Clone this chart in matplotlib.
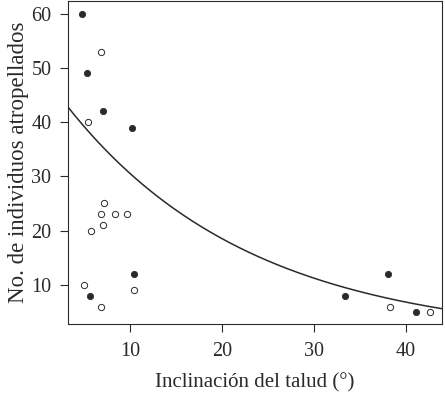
import matplotlib
matplotlib.use("Agg")
import matplotlib.pyplot as plt
import numpy as np

plt.rcParams['font.family'] = ['Liberation Serif', 'DejaVu Serif']

# filled circles
filled_x = [4.8, 5.3, 7.1, 10.2, 10.4, 5.6, 33.4, 38.0, 41.1]
filled_y = [60, 49, 42, 39, 12, 8, 8, 12, 5]
# open circles
open_x = [6.8, 5.4, 7.2, 6.8, 8.4, 9.7, 7.1, 5.7, 5.0, 10.4, 6.8, 38.3, 42.6]
open_y = [53, 40, 25, 23, 23, 23, 21, 20, 10, 9, 6, 6, 5]

# fitted curve y = a * exp(-b x)
fit_a = 50.3
fit_b = 0.05

ink = '#2a2a2a'

fig = plt.figure(figsize=(4.45, 3.94), dpi=100)
ax = fig.add_axes([0.153, 0.178, 0.840, 0.819])

xs = np.linspace(3.2, 44, 200)
ax.plot(xs, fit_a * np.exp(-fit_b * xs), color=ink, lw=1.1)
ax.plot(filled_x, filled_y, 'o', ms=4.5, mfc=ink, mec=ink, mew=0.6)
ax.plot(open_x, open_y, 'o', ms=4.5, mfc='white', mec=ink, mew=0.7)

ax.set_xlim(3.25, 43.9)
ax.set_ylim(2.8, 62.3)
ax.set_xticks([10, 20, 30, 40])
ax.set_yticks([10, 20, 30, 40, 50, 60])
ax.tick_params(direction='out', length=6, width=0.8, colors=ink, labelsize=14.5)
ax.tick_params(axis='x', pad=7)
ax.tick_params(axis='y', pad=6)
for s in ax.spines.values():
    s.set_linewidth(0.8)
    s.set_color(ink)

ax.set_xlabel('Inclinación del talud (°)', fontsize=15, color=ink, labelpad=9)
ax.set_ylabel('No. de individuos atropellados', fontsize=16.5, color=ink, labelpad=2)

fig.savefig('out.png', dpi=100)
